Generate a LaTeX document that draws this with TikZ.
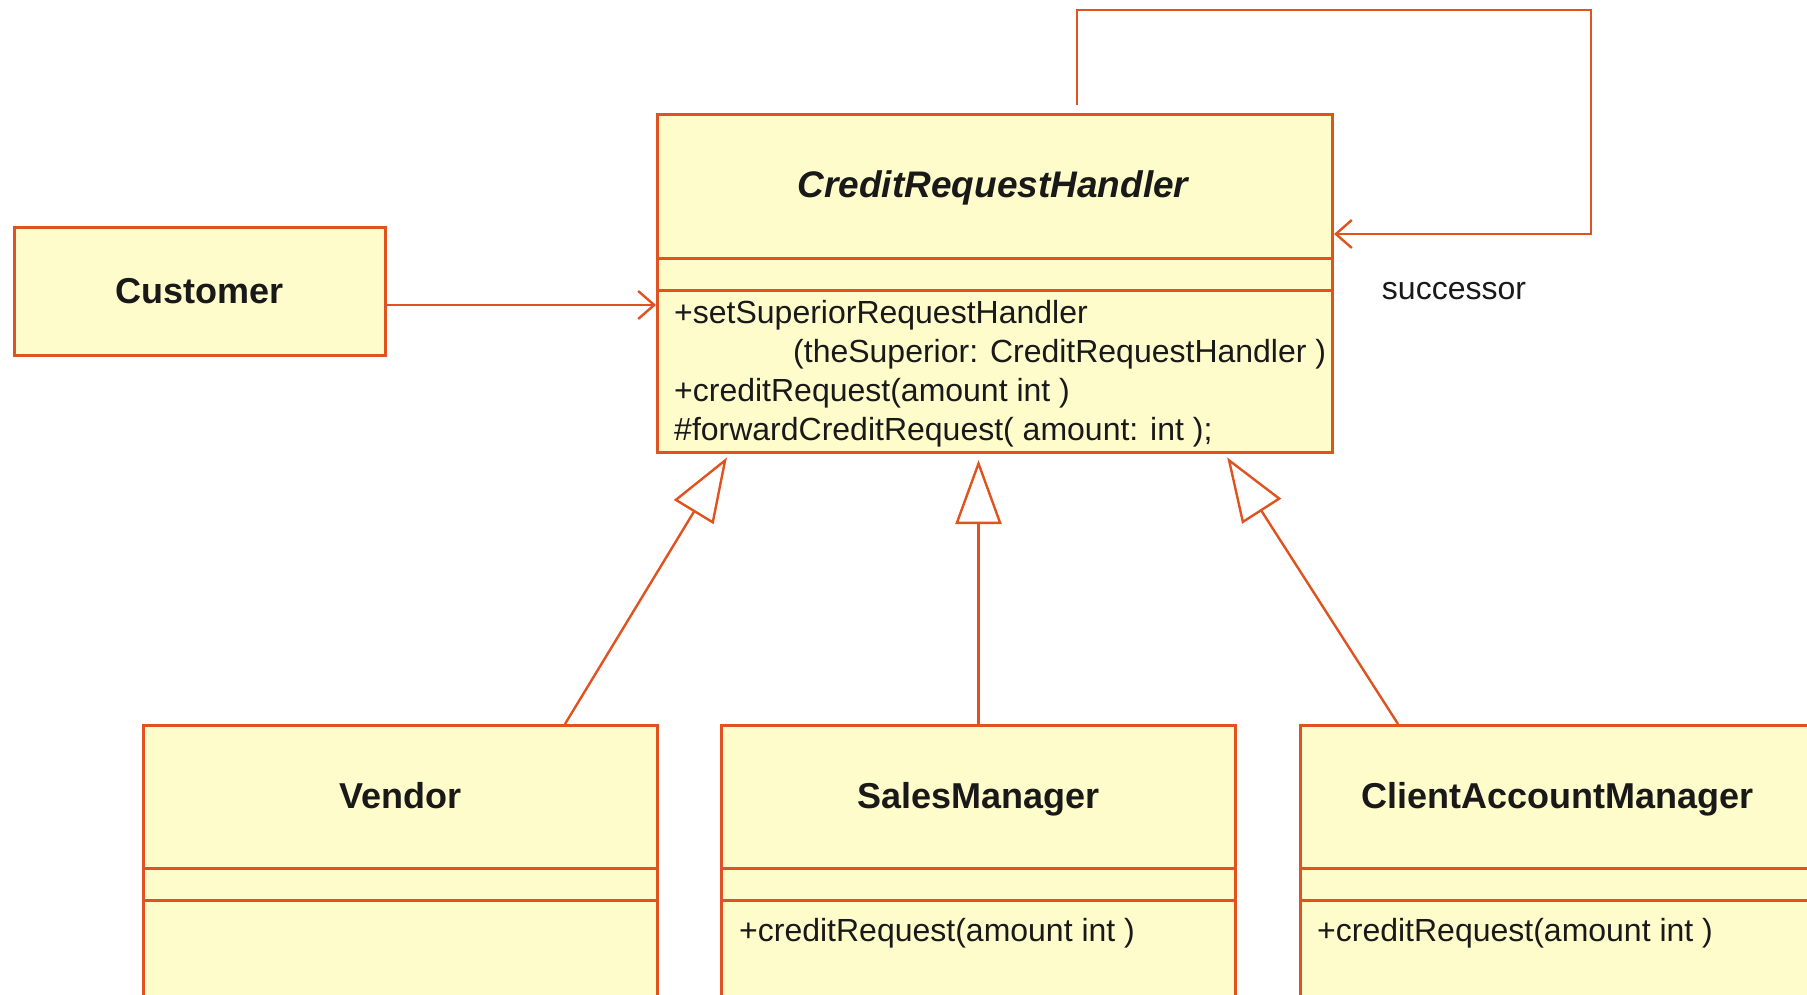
\documentclass[tikz,border=0pt]{standalone}
\usepackage{fontspec}
\setmainfont{Liberation Sans}
\usetikzlibrary{arrows.meta}
\definecolor{umlred}{RGB}{224,82,30}
\definecolor{umlfill}{RGB}{255,252,204}
\definecolor{ink}{RGB}{25,25,25}
\tikzset{
  classbox/.style={draw=umlred,fill=umlfill,line width=3pt,inner sep=0pt,anchor=north west},
  classname/.style={font=\fontsize{36}{40}\selectfont\bfseries,text=ink,anchor=base},
  member/.style={font=\fontsize{32}{39}\selectfont,text=ink,align=left,anchor=west,inner sep=0pt},
  sep/.style={draw=umlred,line width=3pt},
  assoc/.style={draw=umlred,line width=2.4pt,-{Straight Barb[length=16pt,width=28pt]}},
  inherit/.style={draw=umlred,line width=2.4pt,-{Triangle[open,length=64pt,width=46pt]}},
  tag/.style={font=\fontsize{32}{39}\selectfont,text=ink},
}
\begin{document}
\begin{tikzpicture}[x=1pt,y=-1pt]
  \useasboundingbox (0,0) rectangle (1807,995);
  \clip (0,0) rectangle (1807,995);
  % classes
  \node[classbox,minimum width=675pt,minimum height=338pt] (crh) at (656,113) {};
  \node[classbox,minimum width=371pt,minimum height=128pt] (customer) at (13,226) {};
  \node[classbox,minimum width=514pt,minimum height=380pt] (vendor) at (142,724) {};
  \node[classbox,minimum width=514pt,minimum height=380pt] (sales) at (720,724) {};
  \node[classbox,minimum width=514pt,minimum height=380pt] (cam) at (1299,724) {};
  % compartments
  \foreach \y in {258,290} \draw[sep] (crh.west |- 0,\y) -- (crh.east |- 0,\y);
  \foreach \n in {vendor,sales,cam}
    \foreach \y in {868,900} \draw[sep] (\n.west |- 0,\y) -- (\n.east |- 0,\y);
  % names
  \node[classname,font=\fontsize{37}{40}\selectfont\bfseries\itshape] (crhname) at (993,198) {CreditRequestHandler};
  \node[classname] (customername) at (customer.center |- 0,303) {Customer};
  \node[classname] (vendorname) at (vendor.north |- 0,808) {Vendor};
  \node[classname] (salesname) at (sales.north |- 0,808) {SalesManager};
  \node[classname] (camname) at (cam.north |- 0,808) {ClientAccountManager};
  % operations
  \node[member] (crhops) at (674,374) {+setSuperiorRequestHandler\\
    \hspace*{119pt}(theSuperior: CreditRequestHandler )\\
    +creditRequest(amount int )\\
    \#forwardCreditRequest( amount: int );};
  \node[member] (salesops) at (739,933) {+creditRequest(amount int )};
  \node[member] (camops) at (1317,933) {+creditRequest(amount int )};
  % associations
  \draw[assoc] (customer.east |- 0,305) -- (crh.west |- 0,305);
  \coordinate (loopstart) at (1077,105);
  \draw[assoc] (loopstart) |- (1591,10) |- (crh.east |- 0,234);
  \node[tag] (succ) at (1454,291) {successor};
  % generalizations
  \draw[inherit,shorten >=4pt] (vendor.north -| 565,0) -- (crh.south -| 729,0);
  \draw[inherit,shorten >=6pt] (sales.north) -- (sales.north |- crh.south);
  \draw[inherit,shorten >=4pt] (cam.north -| 1398,0) -- (crh.south -| 1225,0);
\end{tikzpicture}
\end{document}
